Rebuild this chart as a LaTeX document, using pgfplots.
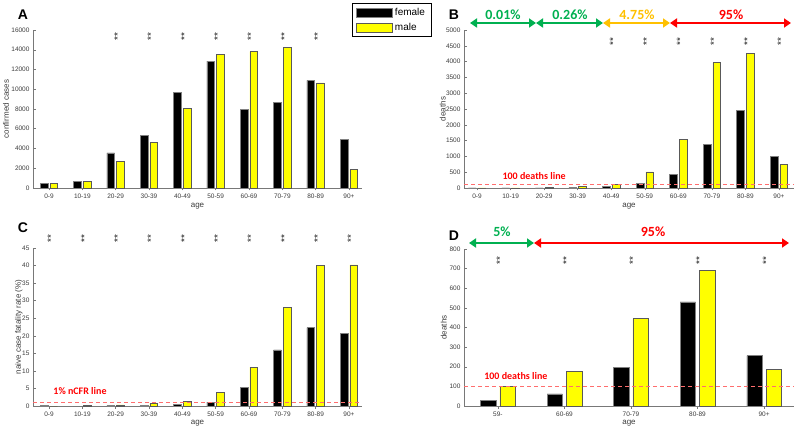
\documentclass[border=0pt]{standalone}
\usepackage{fontspec}
\setmainfont{Liberation Sans}
\newfontfamily\calfont{Carlito}
\usepackage{pgfplots}
\pgfplotsset{compat=1.18}
\usetikzlibrary{arrows.meta}
\definecolor{myyellow}{RGB}{255,255,0}
\definecolor{mygreen}{RGB}{0,176,80}
\definecolor{myorange}{RGB}{255,192,0}
\definecolor{myred}{RGB}{255,0,0}
\definecolor{dashred}{RGB}{255,110,110}
\definecolor{axgray}{RGB}{120,120,120}
\definecolor{txtgray}{RGB}{60,60,60}
\tikzset{stars/.style={font=\fontsize{10}{10}\selectfont, rotate=90, inner sep=0pt, text=black!85, yshift=-2pt}}
\pgfplotsset{
  panel/.style={
    scale only axis, width=329pt, height=158pt,
    axis x line*=bottom, axis y line*=left,
    axis line style={axgray, line width=0.6pt},
    tick style={axgray, line width=0.5pt}, major tick length=2.5pt, tick align=inside,
    ticklabel style={font=\fontsize{6.5}{7}\selectfont, text=txtgray},
    /pgf/number format/assume math mode=true,
    /pgf/number format/1000 sep={},
    scaled y ticks=false,
    label style={font=\fontsize{8}{9}\selectfont, text=txtgray},
    ybar, bar width=0.23,
    ymin=0, clip=false,
    xlabel={age},
  },
  fem/.style={fill=black, draw=gray, line width=0.5pt, bar shift=-0.145, mylegend},
  mal/.style={fill=myyellow, draw=black!65, line width=0.5pt, bar shift=0.145, mylegend},
  mylegend/.style={legend image code/.code={\draw[##1,/tikz/.cd] (0pt,-4.5pt) rectangle (36pt,4.5pt);}},
  dline/.style={dashred, dashed, dash pattern=on 4pt off 3pt, line width=0.8pt, forget plot, sharp plot},
}
\newcommand{\st}{**}
\begin{document}
\begin{tikzpicture}[x=1pt,y=1pt]
\useasboundingbox (0,0) rectangle (796,429);

% ---------- A ----------
\begin{axis}[panel, at={(33pt,241pt)}, anchor=south west,
  xmin=-0.48, xmax=9.39, ymax=16000, ytick={0,2000,...,16000},
  xtick={0,...,9}, xticklabels={0-9,10-19,20-29,30-39,40-49,50-59,60-69,70-79,80-89,90+},
  ylabel={confirmed cases},
  ylabel style={at={(axis description cs:-0.082,0.5)}, anchor=center},
  xlabel style={at={(axis description cs:0.5,-0.114)}, anchor=center},
  legend style={at={(0.97,1.171)}, anchor=north west, draw=black, line width=0.7pt,
    font=\fontsize{10}{11}\selectfont, row sep=2pt, inner xsep=4pt, inner ysep=3pt,
    /tikz/every even column/.append style={column sep=1pt}},
  legend cell align=left]
\addplot[fem] coordinates {(0,450) (1,700) (2,3550) (3,5300) (4,9700) (5,12850) (6,7950) (7,8650) (8,10900) (9,4950)};
\addplot[mal] coordinates {(0,500) (1,700) (2,2700) (3,4600) (4,8050) (5,13500) (6,13800) (7,14250) (8,10650) (9,1850)};
\legend{female, male}
\pgfplotsinvokeforeach{2,...,8}{\node[stars] at (axis cs:#1,15300) {\st};}
\end{axis}

% ---------- B ----------
\begin{axis}[panel, at={(464pt,241pt)}, anchor=south west, width=330pt,
  xmin=-0.39, xmax=9.45, ymax=5000, ytick={0,500,...,5000},
  xtick={0,...,9}, xticklabels={0-9,10-19,20-29,30-39,40-49,50-59,60-69,70-79,80-89,90+},
  ylabel={deaths},
  ylabel style={at={(axis description cs:-0.064,0.5)}, anchor=center},
  xlabel style={at={(axis description cs:0.5,-0.114)}, anchor=center}]
\addplot[fem] coordinates {(0,6) (1,0) (2,6) (3,10) (4,45) (5,140) (6,430) (7,1390) (8,2450) (9,1010)};
\addplot[mal] coordinates {(0,0) (1,3) (2,12) (3,40) (4,120) (5,510) (6,1540) (7,3970) (8,4260) (9,750)};
\addplot[dline] coordinates {(-0.39,100) (9.45,100)};
\node[font=\calfont\bfseries\fontsize{10}{11}\selectfont, text=myred] at (axis cs:1.7,390) {100 deaths line};
\pgfplotsinvokeforeach{4,...,9}{\node[stars] at (axis cs:#1,4630) {\st};}
\end{axis}

% ---------- C ----------
\begin{axis}[panel, at={(33pt,23pt)}, anchor=south west,
  xmin=-0.48, xmax=9.39, ymax=45, ytick={0,5,...,45},
  xtick={0,...,9}, xticklabels={0-9,10-19,20-29,30-39,40-49,50-59,60-69,70-79,80-89,90+},
  ylabel={naive case fatality rate (\%)},
  ylabel style={at={(axis description cs:-0.043,0.5)}, anchor=center},
  xlabel style={at={(axis description cs:0.5,-0.108)}, anchor=center}]
\addplot[fem] coordinates {(0,0.2) (1,0) (2,0.1) (3,0.2) (4,0.4) (5,1.1) (6,5.4) (7,16) (8,22.3) (9,20.7)};
\addplot[mal] coordinates {(0,0) (1,0.1) (2,0.3) (3,0.8) (4,1.4) (5,3.8) (6,11.1) (7,28) (8,40) (9,40.2)};
\addplot[dline] coordinates {(-0.48,1) (9.39,1)};
\node[font=\calfont\bfseries\fontsize{10}{11}\selectfont, text=myred] at (axis cs:0.93,4.3) {1\% nCFR line};
\pgfplotsinvokeforeach{0,...,9}{\node[stars] at (axis cs:#1,47.6) {\st};}
\end{axis}

% ---------- D ----------
\begin{axis}[panel, at={(464pt,23pt)}, anchor=south west, width=330pt, height=157pt,
  xmin=-0.51, xmax=4.45, ymax=800, ytick={0,100,...,800},
  bar width=0.23, 
  xtick={0,...,4}, xticklabels={59-,60-69,70-79,80-89,90+},
  ylabel={deaths},
  ylabel style={at={(axis description cs:-0.061,0.5)}, anchor=center},
  xlabel style={at={(axis description cs:0.5,-0.108)}, anchor=center}]
\addplot[fem] coordinates {(0,30) (1,62) (2,197) (3,530) (4,257)};
\addplot[mal] coordinates {(0,100) (1,177) (2,445) (3,690) (4,185)};
\addplot[dline] coordinates {(-0.51,100) (4.45,100)};
\node[font=\calfont\bfseries\fontsize{10}{11}\selectfont, text=myred] at (axis cs:0.27,153) {100 deaths line};
\pgfplotsinvokeforeach{0,...,4}{\node[stars] at (axis cs:#1,739) {\st};}
\end{axis}

% ---------- annotations ----------
\tikzset{arr/.style={line width=2.2pt, {Triangle[length=7pt,width=9pt]}-{Triangle[length=7pt,width=9pt]}},
  big/.style={font=\calfont\bfseries\fontsize{14}{15}\selectfont},
  letter/.style={font=\bfseries\fontsize{14}{15}\selectfont}}
\draw[arr, mygreen] (470,406) -- (536,406);
\draw[arr, mygreen] (536,406) -- (603,406);
\draw[arr, myorange] (603,406) -- (670,406);
\draw[arr, myred] (670,406) -- (791,406);
\node[big, text=mygreen] at (503,414) {0.01\%};
\node[big, text=mygreen] at (570,414) {0.26\%};
\node[big, text=myorange] at (637,414) {4.75\%};
\node[big, text=myred] at (731,414) {95\%};
\draw[arr, mygreen] (469,186) -- (534,186);
\draw[arr, myred] (534,186) -- (789,186);
\node[big, text=mygreen] at (502,197) {5\%};
\node[big, text=myred] at (653,197) {95\%};
\node[letter] at (23,414) {A};
\node[letter] at (454,414) {B};
\node[letter] at (23,201) {C};
\node[letter] at (454,193) {D};
\end{tikzpicture}
\end{document}
